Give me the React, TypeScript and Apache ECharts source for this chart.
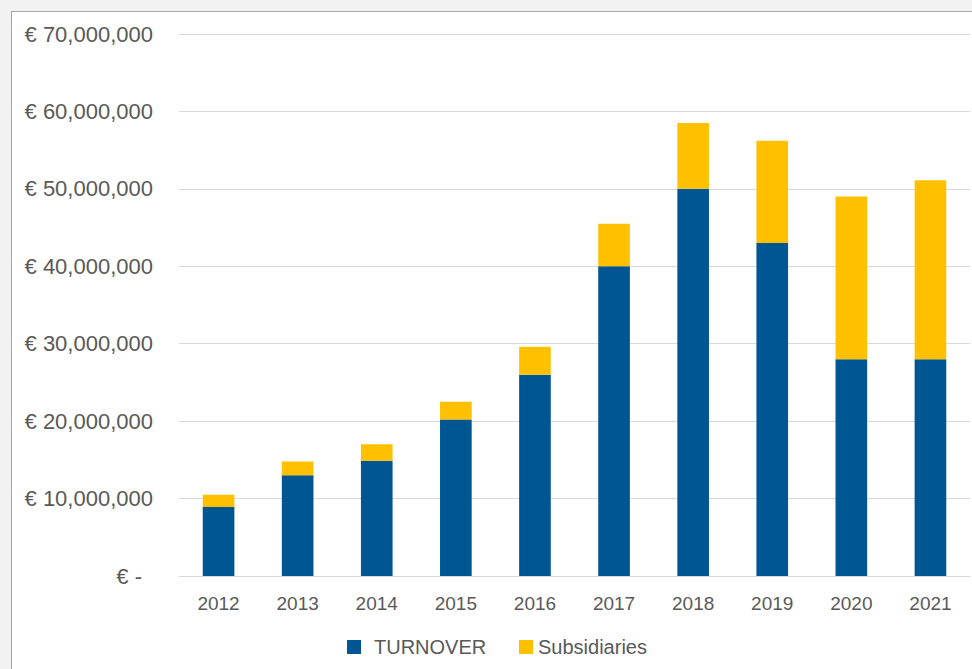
import React, { useEffect, useRef } from "react";
import * as echarts from "echarts";

const years = ["2012", "2013", "2014", "2015", "2016", "2017", "2018", "2019", "2020", "2021"];
const turnover = [8900000, 13000000, 14900000, 20200000, 26000000, 40000000, 50000000, 43000000, 28000000, 28000000];
const subsidiaries = [1600000, 1800000, 2100000, 2300000, 3600000, 5500000, 8500000, 13200000, 21000000, 23100000];
const yTicks = [0, 10000000, 20000000, 30000000, 40000000, 50000000, 60000000, 70000000];

const BLUE = "#005593";
const YELLOW = "#ffc000";
const TEXT = "#595959";
const FONT = "'Liberation Sans', Arial, sans-serif";

export default function App() {
  const ref = useRef<HTMLDivElement>(null);
  useEffect(() => {
    if (!ref.current) return;
    const chart = echarts.init(ref.current, undefined, { renderer: "svg" });
    chart.setOption({
      animation: false,
      backgroundColor: "transparent",
      textStyle: { fontFamily: FONT },
      grid: { left: 179, right: 2, top: 34, bottom: 93, containLabel: false },
      legend: [
        {
          data: ["TURNOVER"],
          left: 342,
          top: 632,
          itemWidth: 14,
          itemHeight: 14,
          icon: "rect",
          textStyle: { fontSize: 20, color: TEXT, fontFamily: FONT, padding: [0, 0, 0, 8] },
        },
        {
          data: ["Subsidiaries"],
          left: 514,
          top: 632,
          itemWidth: 14,
          itemHeight: 14,
          icon: "rect",
          textStyle: { fontSize: 20, color: TEXT, fontFamily: FONT },
        },
      ],
      xAxis: {
        type: "category",
        data: years,
        axisLine: { show: true, lineStyle: { color: "#d9d9d9", width: 1 } },
        axisTick: { show: false },
        axisLabel: { color: TEXT, fontSize: 19, margin: 18, fontFamily: FONT },
      },
      yAxis: {
        type: "value",
        min: 0,
        max: 70000000,
        interval: 10000000,
        axisLine: { show: false },
        axisTick: { show: false },
        splitLine: { lineStyle: { color: "#d9d9d9", width: 1 } },
        axisLabel: {
          color: TEXT,
          fontSize: 22,
          margin: 26,
          fontFamily: FONT,
          formatter: (v: number) => {
            if (v === 0) return "{z|€ -}";
            const idx = yTicks.indexOf(v);
            const val = idx >= 0 ? yTicks[idx] : v;
            return "€ " + val.toLocaleString("en-US");
          },
          rich: {
            z: { fontSize: 22, color: TEXT, fontFamily: FONT, padding: [0, 11, 0, 0] },
          },
        },
      },
      series: [
        {
          name: "TURNOVER",
          type: "bar",
          stack: "total",
          data: turnover,
          barWidth: "40%",
          itemStyle: { color: BLUE },
        },
        {
          name: "Subsidiaries",
          type: "bar",
          stack: "total",
          data: subsidiaries,
          barWidth: "40%",
          itemStyle: { color: YELLOW },
        },
      ],
    });
    return () => chart.dispose();
  }, []);

  return (
    <div style={{ position: "fixed", left: 0, top: 0, width: 972, height: 669, background: "#f2f2f2", overflow: "hidden" }}>
      <div
        style={{
          position: "absolute",
          left: 11,
          top: 11,
          width: 972,
          height: 669,
          background: "#ffffff",
          borderLeft: "1px solid #a6a6a6",
          borderTop: "1px solid #a6a6a6",
        }}
      />
      <div ref={ref} style={{ position: "absolute", left: 0, top: 0, width: 972, height: 669 }} />
    </div>
  );
}
